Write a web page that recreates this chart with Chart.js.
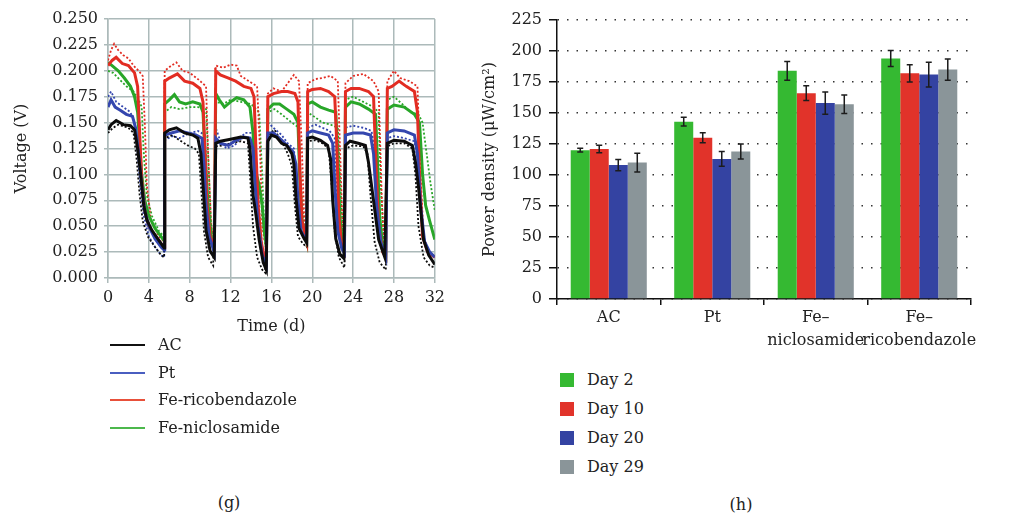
<!DOCTYPE html>
<html>
<head>
<meta charset="utf-8">
<script src="https://cdn.jsdelivr.net/npm/chart.js@4.4.0/dist/chart.umd.min.js"></script>
<style>
  body { margin: 0; background: #fff; width: 1011px; height: 515px; position: relative; overflow: hidden;
         font-family: 'DejaVu Serif', serif; color: #222; }
  #voltage-box { position: absolute; left: 0; top: 0; width: 450px; height: 340px; }
  #power-box { position: absolute; left: 470px; top: 0; width: 541px; height: 360px; }
  .legend { position: absolute; font-size: 16px; }
  .legend .item { position: relative; white-space: nowrap; }
  .legend .swatch { position: absolute; left: 0; }
  #line-legend { left: 110px; top: 331px; }
  #line-legend .item { height: 27.5px; line-height: 27.5px; padding-left: 48px; }
  #line-legend .swatch { width: 35px; top: 13px; height: 2px; }
  #bar-legend { left: 560px; top: 365px; }
  #bar-legend .item { height: 29px; line-height: 29px; padding-left: 27px; }
  #bar-legend .swatch { width: 14px; height: 14px; top: 7.5px; }
  .panel { position: absolute; font-size: 16px; transform: translate(-50%, -50%); }
</style>
</head>
<body>
<div id="voltage-box"><canvas id="voltage-chart"></canvas></div>
<div id="power-box"><canvas id="power-chart"></canvas></div>
<div class="legend" id="line-legend"></div>
<div class="legend" id="bar-legend"></div>
<div class="panel" style="left:229px; top:502px;">(g)</div>
<div class="panel" style="left:741px; top:504px;">(h)</div>

<script>
// (g) voltage vs time, [day, volts]
const dayTicks = [0, 4, 8, 12, 16, 20, 24, 28, 32];
const voltTicks = [0, 0.025, 0.05, 0.075, 0.1, 0.125, 0.15, 0.175, 0.2, 0.225, 0.25];

const acLine = [[0,0.143],[0.3,0.148],[0.8,0.152],[1.5,0.148],[2.2,0.147],[2.6,0.143],[2.9,0.125],[3.2,0.1],[3.5,0.07],[3.8,0.056],[4.3,0.046],[5,0.036],[5.5,0.029],
  [5.55,0.14],[6,0.143],[6.7,0.145],[7.5,0.14],[8.3,0.138],[8.8,0.135],[9.1,0.12],[9.3,0.09],[9.6,0.046],[10,0.026],[10.4,0.02],
  [10.55,0.13],[11,0.132],[12,0.134],[13,0.136],[13.7,0.135],[13.9,0.125],[14.2,0.08],[14.5,0.06],[14.8,0.037],[15.2,0.015],[15.5,0.008],
  [15.65,0.132],[16,0.138],[16.5,0.136],[17,0.13],[17.5,0.128],[18,0.12],[18.2,0.11],[18.4,0.078],[18.7,0.048],[19.2,0.038],[19.45,0.034],
  [19.55,0.135],[20,0.136],[20.8,0.133],[21.5,0.128],[21.8,0.115],[22,0.075],[22.3,0.038],[22.7,0.023],[23.1,0.019],
  [23.25,0.128],[23.7,0.132],[24.5,0.13],[25.2,0.128],[25.5,0.112],[25.9,0.082],[26.5,0.037],[27.1,0.02],
  [27.35,0.13],[28,0.133],[29,0.132],[29.8,0.128],[30.1,0.112],[30.4,0.088],[30.9,0.037],[31.4,0.022],[32,0.013]];
const acDots = [[0,0.14],[0.5,0.145],[1,0.148],[2,0.145],[2.5,0.14],[2.8,0.115],[3.1,0.08],[3.4,0.055],[3.9,0.04],[4.6,0.03],[5.2,0.022],[5.5,0.02],
  [5.55,0.135],[6.3,0.138],[7,0.133],[7.8,0.128],[8.5,0.125],[8.9,0.12],[9.1,0.09],[9.4,0.045],[9.8,0.02],[10.3,0.012],
  [10.55,0.127],[11.2,0.128],[12,0.13],[13,0.132],[13.7,0.13],[13.9,0.1],[14.2,0.05],[14.6,0.02],[15.1,0.008],[15.4,0.005],
  [15.65,0.138],[16.3,0.143],[17,0.132],[17.6,0.12],[18,0.108],[18.3,0.07],[18.6,0.04],[19.1,0.033],[19.45,0.03],
  [19.55,0.132],[20.3,0.133],[21,0.13],[21.6,0.125],[21.9,0.09],[22.2,0.045],[22.6,0.02],[23.15,0.01],
  [23.25,0.125],[24,0.128],[25,0.127],[25.4,0.12],[25.7,0.08],[26.1,0.035],[26.6,0.015],[27.2,0.008],
  [27.35,0.127],[28,0.13],[29,0.13],[29.8,0.125],[30.1,0.1],[30.4,0.05],[30.9,0.02],[31.5,0.012],[32,0.01]];

const ptLine = [[0,0.165],[0.3,0.172],[0.7,0.165],[1.2,0.162],[1.8,0.158],[2.4,0.156],[2.7,0.145],[3,0.12],[3.3,0.09],[3.6,0.065],[4,0.05],[4.6,0.038],[5.2,0.03],[5.5,0.027],
  [5.55,0.138],[6.2,0.14],[7,0.142],[7.8,0.14],[8.6,0.138],[9.2,0.135],[9.4,0.11],[9.6,0.07],[9.9,0.04],[10.4,0.025],
  [10.55,0.135],[11,0.13],[11.8,0.128],[12.5,0.133],[13.3,0.136],[13.9,0.135],[14.2,0.125],[14.4,0.09],[14.7,0.05],[15.1,0.022],[15.5,0.012],
  [15.65,0.14],[16.2,0.14],[17,0.133],[17.6,0.127],[18.1,0.122],[18.4,0.11],[18.6,0.075],[18.9,0.045],[19.45,0.036],
  [19.55,0.14],[20,0.142],[20.8,0.14],[21.6,0.138],[22,0.13],[22.2,0.09],[22.5,0.045],[22.9,0.028],[23.15,0.024],
  [23.25,0.138],[24,0.14],[25,0.14],[25.7,0.138],[26,0.12],[26.3,0.07],[26.7,0.035],[27.2,0.02],
  [27.35,0.14],[28,0.143],[29,0.142],[30,0.138],[30.3,0.12],[30.6,0.07],[31,0.035],[31.5,0.025],[32,0.02]];
const ptDots = [[0,0.175],[0.3,0.18],[0.8,0.17],[1.5,0.165],[2.2,0.16],[2.6,0.15],[2.9,0.12],[3.2,0.085],[3.5,0.06],[4,0.04],[4.6,0.03],[5.2,0.022],[5.5,0.02],
  [5.55,0.133],[6.3,0.137],[7,0.135],[8,0.14],[8.8,0.142],[9.5,0.138],[9.7,0.09],[10,0.04],[10.4,0.025],
  [10.55,0.145],[11,0.132],[11.6,0.125],[12.4,0.128],[13.4,0.14],[14.2,0.14],[14.6,0.1],[14.9,0.05],[15.2,0.02],[15.5,0.01],
  [15.65,0.15],[16.2,0.145],[17,0.138],[17.6,0.13],[18.2,0.125],[18.5,0.09],[18.8,0.05],[19.45,0.038],
  [19.55,0.145],[20.3,0.148],[21,0.145],[21.7,0.142],[22.2,0.135],[22.4,0.08],[22.8,0.035],[23.15,0.025],
  [23.25,0.145],[24,0.147],[25,0.145],[25.8,0.142],[26.2,0.12],[26.5,0.06],[26.9,0.025],[27.2,0.02],
  [27.35,0.135],[28,0.137],[29,0.135],[30,0.132],[30.4,0.11],[30.7,0.06],[31.1,0.03],[32,0.02]];

const ricoLine = [[0,0.205],[0.4,0.21],[0.8,0.213],[1.4,0.207],[2,0.205],[2.6,0.198],[2.9,0.185],[3.1,0.14],[3.3,0.095],[3.6,0.065],[4,0.05],[4.6,0.04],[5.2,0.033],[5.5,0.03],
  [5.55,0.19],[6,0.193],[6.8,0.197],[7.5,0.19],[8.3,0.188],[9,0.183],[9.3,0.17],[9.5,0.12],[9.7,0.07],[10,0.04],[10.4,0.03],
  [10.55,0.2],[11,0.196],[11.8,0.193],[12.5,0.19],[13.3,0.185],[14,0.183],[14.3,0.175],[14.5,0.12],[14.7,0.07],[15,0.035],[15.3,0.02],[15.5,0.016],
  [15.65,0.175],[16.2,0.178],[17,0.18],[17.6,0.18],[18.3,0.178],[18.6,0.17],[18.8,0.1],[19,0.055],[19.45,0.036],
  [19.55,0.18],[20,0.182],[20.8,0.183],[21.6,0.18],[22.2,0.175],[22.4,0.13],[22.6,0.06],[22.9,0.03],[23.15,0.025],
  [23.25,0.18],[23.8,0.183],[24.6,0.183],[25.5,0.18],[26,0.175],[26.2,0.12],[26.5,0.05],[26.9,0.025],[27.2,0.02],
  [27.35,0.183],[27.8,0.185],[28.5,0.19],[29.2,0.185],[30,0.18],[30.3,0.16],[30.5,0.1],[30.8,0.04],[31.3,0.025],[32,0.02]];
const ricoDots = [[0,0.21],[0.3,0.22],[0.6,0.226],[1,0.22],[1.5,0.215],[2,0.212],[2.5,0.205],[3,0.2],[3.4,0.195],[3.6,0.15],[3.8,0.09],[4.2,0.055],[5,0.04],[5.5,0.035],
  [5.55,0.2],[6.2,0.205],[6.7,0.208],[7.3,0.2],[8,0.198],[8.8,0.192],[9.6,0.185],[9.8,0.12],[10.1,0.05],[10.4,0.035],
  [10.55,0.205],[11.3,0.203],[12,0.206],[12.6,0.205],[13,0.195],[13.8,0.19],[14.6,0.185],[14.9,0.12],[15.1,0.05],[15.5,0.025],
  [15.65,0.178],[16.2,0.183],[17,0.18],[17.6,0.188],[18.2,0.196],[18.7,0.19],[19,0.12],[19.2,0.06],[19.45,0.04],
  [19.55,0.188],[20.3,0.192],[21,0.193],[21.8,0.195],[22.5,0.19],[22.8,0.1],[23,0.04],[23.15,0.03],
  [23.25,0.188],[24,0.195],[25,0.197],[26,0.19],[26.5,0.18],[26.8,0.08],[27,0.035],[27.2,0.025],
  [27.35,0.19],[28,0.2],[28.6,0.193],[29.5,0.19],[30.3,0.185],[30.6,0.1],[30.9,0.04],[31.4,0.025],[32,0.02]];

const nicloLine = [[0,0.208],[0.4,0.205],[1,0.2],[1.6,0.193],[2.2,0.185],[2.6,0.175],[2.9,0.16],[3.1,0.13],[3.3,0.1],[3.6,0.075],[4,0.06],[4.6,0.048],[5.2,0.04],[5.5,0.036],
  [5.55,0.168],[6,0.172],[6.5,0.177],[7,0.17],[7.6,0.168],[8.3,0.17],[9,0.168],[9.3,0.16],[9.5,0.12],[9.8,0.07],[10.1,0.04],[10.4,0.033],
  [10.55,0.178],[10.9,0.172],[11.4,0.165],[12,0.17],[12.6,0.174],[13.3,0.172],[13.9,0.165],[14.2,0.14],[14.4,0.105],[14.8,0.09],[15.1,0.07],[15.3,0.045],[15.5,0.03],
  [15.65,0.163],[16.2,0.168],[16.8,0.168],[17.5,0.163],[18.2,0.158],[18.6,0.15],[18.8,0.09],[19,0.055],[19.45,0.036],
  [19.55,0.168],[20,0.17],[20.8,0.165],[21.6,0.162],[22.3,0.16],[22.5,0.12],[22.7,0.06],[22.9,0.04],[23.15,0.035],
  [23.25,0.165],[23.8,0.17],[24.6,0.168],[25.5,0.163],[26.2,0.158],[26.4,0.11],[26.6,0.06],[26.9,0.03],[27.2,0.022],
  [27.35,0.163],[28,0.167],[29,0.165],[30,0.158],[30.5,0.15],[30.8,0.1],[31.1,0.07],[31.5,0.055],[32,0.037]];
const nicloDots = [[0,0.2],[0.5,0.198],[1,0.193],[1.8,0.185],[2.5,0.18],[3,0.172],[3.3,0.165],[3.5,0.12],[3.8,0.08],[4.3,0.06],[5,0.045],[5.5,0.04],
  [5.55,0.16],[6.2,0.165],[7,0.163],[8,0.165],[8.8,0.165],[9.6,0.163],[9.8,0.12],[10.1,0.05],[10.4,0.035],
  [10.55,0.17],[11.3,0.168],[12,0.172],[13,0.17],[14,0.168],[14.8,0.16],[15.1,0.1],[15.3,0.05],[15.5,0.035],
  [15.65,0.16],[16.3,0.163],[17,0.158],[18,0.15],[18.7,0.145],[18.9,0.09],[19.2,0.05],[19.45,0.04],
  [19.55,0.16],[20.3,0.155],[21,0.15],[21.8,0.148],[22.5,0.145],[22.8,0.08],[23,0.045],[23.15,0.04],
  [23.25,0.172],[24,0.175],[25,0.17],[26,0.165],[26.5,0.16],[26.7,0.09],[27,0.04],[27.2,0.03],
  [27.35,0.172],[28,0.175],[28.8,0.168],[29.6,0.16],[30.4,0.158],[30.8,0.15],[31.2,0.12],[31.6,0.09],[32,0.065]];

// (h) power density, uW/cm2
const electrodes = [['AC'], ['Pt'], ['Fe\u2013', 'niclosamide'], ['Fe\u2013', 'ricobendazole']];
const day2 = [120, 143, 184, 194];
const day2Err = [1.5, 3.5, 7.5, 6.5];
const day10 = [121, 130, 166, 182];
const day10Err = [3, 4, 6, 7];
const day20 = [108, 113, 158, 181];
const day20Err = [4.5, 6, 9, 10];
const day29 = [110, 119, 157, 185];
const day29Err = [7.5, 6, 7.5, 8.5];
const powerTicks = [0, 25, 50, 75, 100, 125, 150, 175, 200, 225];

const serif = { family: 'DejaVu Serif', size: 16 };
const ink = '#222';
const gridGray = 'rgb(172,186,186)';

const toXY = pts => pts.map(p => ({ x: p[0], y: p[1] }));

const lineSeries = [
  { label: 'AC', line: acLine, dots: acDots, color: '#0c0c0c', key: '#111' },
  { label: 'Pt', line: ptLine, dots: ptDots, color: '#3446ae', key: '#4a5ec0' },
  { label: 'Fe-ricobendazole', line: ricoLine, dots: ricoDots, color: '#e22c22', key: '#e8503a' },
  { label: 'Fe-niclosamide', line: nicloLine, dots: nicloDots, color: '#28a628', key: '#4cb84c' }
];

const voltSets = [];
lineSeries.forEach((s, i) => {
  voltSets.push({ label: s.label, data: toXY(s.line), borderColor: s.color, borderWidth: 3,
    pointRadius: 0, tension: 0, order: i });
});
lineSeries.forEach((s, i) => {
  voltSets.push({ label: s.label + ' rep', data: toXY(s.dots), borderColor: s.color, borderWidth: 1.8,
    borderDash: [2, 2], pointRadius: 0, tension: 0, order: 10 + i });
});

const ctx = document.getElementById('voltage-chart').getContext('2d');

const voltChart = new Chart(ctx, {
  type: 'line',
  data: { datasets: voltSets },
  options: {
    responsive: true,
    maintainAspectRatio: false,
    animation: false,
    layout: { padding: { top: 19, right: 14, bottom: 0, left: 0 } },
    plugins: { legend: { display: false }, tooltip: { enabled: false } },
    scales: {
      x: {
        type: 'linear', min: 0, max: 32,
        afterBuildTicks: axis => { axis.ticks = dayTicks.map(v => ({ value: v })); },
        afterFit: axis => { axis.height = 62; },
        ticks: { font: serif, color: ink, padding: 5 },
        grid: { color: gridGray, lineWidth: 1.5, tickLength: 5 },
        border: { color: gridGray, width: 1.5 },
        title: { display: true, text: 'Time (d)', font: serif, color: ink, padding: { top: 0, bottom: 4 } }
      },
      y: {
        min: 0, max: 0.25,
        afterBuildTicks: axis => { axis.ticks = voltTicks.map(v => ({ value: v })); },
        afterFit: axis => { axis.width = 108; },
        ticks: { font: serif, color: ink, padding: 6, callback: v => v.toFixed(3) },
        grid: { color: gridGray, lineWidth: 1.5, tickLength: 4 },
        border: { color: gridGray, width: 1.5 },
        title: { display: true, text: 'Voltage (V)', font: serif, color: ink, padding: { top: 12, bottom: 0 } }
      }
    }
  }
});

// error bars drawn through the y scale
const errorBars = {
  id: 'errorBars',
  afterDatasetsDraw(chart) {
    const c = chart.ctx;
    const yScale = chart.scales.y;
    c.save();
    c.strokeStyle = '#1c1c1c';
    c.lineWidth = 1.5;
    chart.data.datasets.forEach((ds, i) => {
      chart.getDatasetMeta(i).data.forEach((bar, j) => {
        const top = yScale.getPixelForValue(ds.data[j] + ds.errors[j]);
        const bottom = yScale.getPixelForValue(ds.data[j] - ds.errors[j]);
        c.beginPath();
        c.moveTo(bar.x, top); c.lineTo(bar.x, bottom);
        c.moveTo(bar.x - 3, top); c.lineTo(bar.x + 3, top);
        c.moveTo(bar.x - 3, bottom); c.lineTo(bar.x + 3, bottom);
        c.stroke();
      });
    });
    c.restore();
  }
};

const barSeries = [
  { label: 'Day 2', data: day2, errors: day2Err, color: '#35b932' },
  { label: 'Day 10', data: day10, errors: day10Err, color: '#e1332a' },
  { label: 'Day 20', data: day20, errors: day20Err, color: '#3443a2' },
  { label: 'Day 29', data: day29, errors: day29Err, color: '#8a9599' }
];

const ctx2 = document.getElementById('power-chart').getContext('2d');

const powerChart = new Chart(ctx2, {
  type: 'bar',
  data: {
    labels: electrodes,
    datasets: barSeries.map(s => ({ label: s.label, data: s.data, errors: s.errors,
      backgroundColor: s.color, barPercentage: 1, categoryPercentage: 0.735 }))
  },
  options: {
    responsive: true,
    maintainAspectRatio: false,
    animation: false,
    layout: { padding: { top: 20, right: 40, bottom: 0, left: 0 } },
    plugins: { legend: { display: false }, tooltip: { enabled: false } },
    scales: {
      x: {
        afterFit: axis => { axis.height = 61; },
        ticks: { font: { family: 'DejaVu Serif', size: 16, lineHeight: 1.45 }, color: ink, padding: 1,
          maxRotation: 0, minRotation: 0, autoSkip: false },
        grid: { drawOnChartArea: false, color: '#111', lineWidth: 1.5, tickLength: 6 },
        border: { color: '#111', width: 1.5 }
      },
      y: {
        min: 0, max: 225,
        afterBuildTicks: axis => { axis.ticks = powerTicks.map(v => ({ value: v })); },
        afterFit: axis => { axis.width = 87; },
        ticks: { font: serif, color: ink, padding: 7 },
        grid: { color: '#333', lineWidth: 1.5, tickLength: 8, tickColor: '#111', tickBorderDash: [] },
        border: { color: '#111', width: 1.5, dash: [1.5, 8] },
        title: { display: true, text: 'Power density (\u03bcW/cm\u00b2)', font: serif, color: ink,
          padding: { top: 10, bottom: 0 } }
      }
    }
  },
  plugins: [errorBars]
});

// legends as text rows
const lineLegend = document.getElementById('line-legend');
lineSeries.forEach(s => {
  lineLegend.innerHTML += `<div class="item"><span class="swatch" style="background:${s.key}"></span>${s.label}</div>`;
});
const barLegend = document.getElementById('bar-legend');
barSeries.forEach(s => {
  barLegend.innerHTML += `<div class="item"><span class="swatch" style="background:${s.color}"></span>${s.label}</div>`;
});
</script>
</body>
</html>
